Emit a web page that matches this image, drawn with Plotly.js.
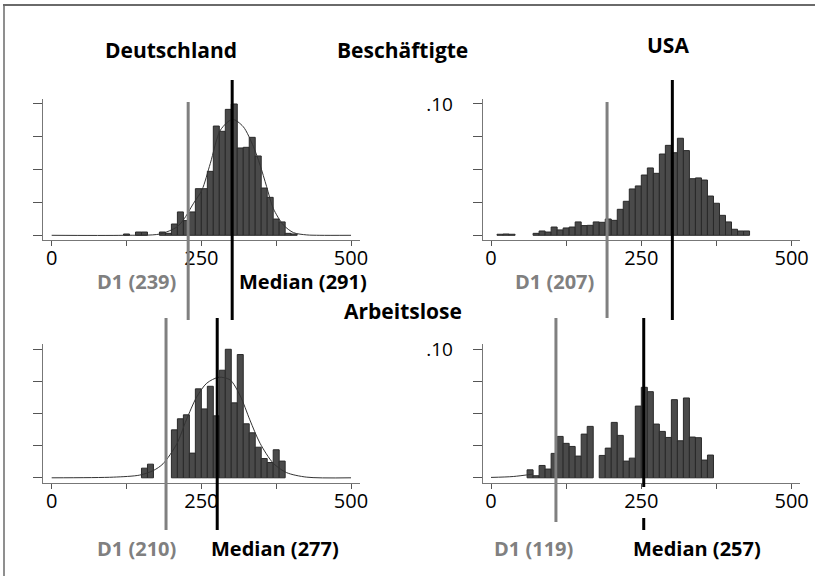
<!DOCTYPE html>
<html>
<head>
<meta charset="utf-8">
<script src="https://cdn.plot.ly/plotly-3.0.1.min.js"></script>
<style>html,body{margin:0;padding:0;background:#fff;overflow:hidden}#chart{width:815px;height:576px}</style>
</head>
<body>
<div id="chart"></div>
<script>
// ---- data ----
const binWidth = 10;

// Deutschland, Beschäftigte
const deBeschBins = [120,140,150,180,190,200,210,220,230,240,250,260,270,280,290,300,310,320,330,340,350,360,370,380,390,400];
const deBeschVals = [0.0010,0.0025,0.0025,0.0025,0.0015,0.0086,0.0178,0.0112,0.0178,0.0355,0.0355,0.0487,0.0832,0.0792,0.0959,0.1000,0.0665,0.0670,0.0746,0.0604,0.0360,0.0289,0.0124,0.0102,0.0015,0.0010];
const deBeschCurveX = [0,120,181,209,220,237,251,265,282,302,320,337,348,359,370,387,404,426,448,500];
const deBeschCurveY = [0,0,0.001,0.0063,0.0117,0.0244,0.0345,0.0548,0.0802,0.0883,0.0827,0.0675,0.0536,0.0371,0.0206,0.0079,0.002,0.0003,0,0];

// USA, Beschäftigte
const usBeschBins = [10,20,30,70,80,90,100,110,120,130,140,150,160,170,180,190,200,210,220,230,240,250,260,270,280,290,300,310,320,330,340,350,360,370,380,390,400,410,420];
const usBeschVals = [0.0008,0.0010,0.0008,0.0015,0.0033,0.0025,0.0063,0.0041,0.0056,0.0063,0.0102,0.0074,0.0076,0.0102,0.0099,0.0124,0.0114,0.0198,0.0259,0.0353,0.0376,0.0459,0.0513,0.0472,0.0619,0.0685,0.0629,0.0739,0.0645,0.0431,0.0437,0.0421,0.0299,0.0244,0.0152,0.0102,0.0046,0.0033,0.0033];

// Deutschland, Arbeitslose
const deArbBins = [150,160,200,210,220,230,240,250,260,270,280,290,300,310,320,330,340,350,360,370,380];
const deArbVals = [0.0075,0.0106,0.0373,0.0459,0.0490,0.0192,0.0692,0.0536,0.0712,0.0482,0.0837,0.1000,0.0583,0.0959,0.0420,0.0350,0.0238,0.0150,0.0119,0.0218,0.0130];
const deArbCurveX = [0,103,147,170,186,209,225,242,259,279,298,315,331,348,370,392,426,500];
const deArbCurveY = [0,0.0005,0.0021,0.0057,0.0109,0.0264,0.0451,0.0627,0.0736,0.0782,0.0762,0.0637,0.0451,0.0269,0.0114,0.0041,0.0005,0];

// USA, Arbeitslose
const usArbBins = [60,70,80,90,100,110,120,130,140,150,160,180,190,200,210,220,230,240,250,260,270,280,290,300,310,320,330,340,350,360];
const usArbVals = [0.0062,0.0016,0.0096,0.0068,0.0190,0.0322,0.0268,0.0244,0.0169,0.0340,0.0400,0.0174,0.0231,0.0431,0.0330,0.0130,0.0153,0.0558,0.0704,0.0670,0.0418,0.0361,0.0314,0.0608,0.0288,0.0621,0.0317,0.0312,0.0138,0.0177];
const usArbCurveX = [0,37,70];
const usArbCurveY = [0.0003,0.0010,0.0029];

// reference lines (positions as drawn) and their labels
const d1Pos = [228, 193, 191, 108];
const medianPos = [301.5, 301.6, 276.5, 254];
const d1Labels = ['D1 (239)', 'D1 (207)', 'D1 (210)', 'D1 (119)'];
const medianLabels = ['Median (291)', 'Median (277)', 'Median (257)'];

const xTickVals = [0,125,250,375,500];
const xTickText = ['0','','250','','500'];
const yTickVals = [0,0.025,0.05,0.075,0.10];
const yTickTextLeft = ['','','','',''];
const yTickTextRight = ['','','','','.10'];

// ---- layout helpers ----
const W = 815, H = 576;
const px = v => v / W;
const py = v => 1 - v / H;
const FONT = 'Open Sans, Noto Sans, sans-serif';
const barColor = '#4a4a4a', barEdge = '#2a2a2a';

function bars(x, y, xa, ya) {
  return {type:'bar', x:x, y:y, width:binWidth, offset:0, xaxis:xa, yaxis:ya,
    marker:{color:barColor, line:{color:barEdge, width:1}}, hoverinfo:'skip', showlegend:false};
}
function curve(x, y, xa, ya) {
  return {type:'scatter', mode:'lines', x:x, y:y, xaxis:xa, yaxis:ya,
    line:{color:'#333', width:1, shape:'spline', smoothing:0.8}, hoverinfo:'skip', showlegend:false};
}

const data = [
  bars(deBeschBins, deBeschVals, 'x', 'y'),
  curve(deBeschCurveX, deBeschCurveY, 'x', 'y'),
  bars(usBeschBins, usBeschVals, 'x2', 'y2'),
  bars(deArbBins, deArbVals, 'x3', 'y3'),
  curve(deArbCurveX, deArbCurveY, 'x3', 'y3'),
  curve(usArbCurveX, usArbCurveY, 'x4', 'y4'),
  bars(usArbBins, usArbVals, 'x4', 'y4')
];

function xaxis(dom, range, anchor) {
  return {domain:dom, range:range, anchor:anchor, showgrid:false, zeroline:false,
    showline:true, linecolor:'#777', linewidth:1, ticks:'outside', ticklen:5, tickcolor:'#555', tickwidth:1,
    tickvals:xTickVals, ticktext:xTickText, tickfont:{family:FONT, size:20, color:'#000'},
    ticklabelstandoff:-5, fixedrange:true};
}
function yaxis(dom, range, anchor, text) {
  return {domain:dom, range:range, anchor:anchor, showgrid:false, zeroline:false,
    showline:true, linecolor:'#777', linewidth:1, ticks:'outside', ticklen:9, tickcolor:'#555', tickwidth:1,
    tickvals:yTickVals, ticktext:text, tickfont:{family:FONT, size:19, color:'#000'},
    ticklabelstandoff:16, fixedrange:true};
}

const leftDom = [px(42.7), px(360)];
const rightDom = [px(482.7), px(800)];
const topDom = [py(240), py(99)];
const botDom = [py(482.5), py(344)];
const xrL = [-15, 515], xrR = [-13.8, 513.9];
const yrT = [-0.00358, 0.1038], yrB = [-0.00366, 0.1041];

function vline(xref, xv, y0, y1, color) {
  return {type:'line', xref:xref, yref:'paper', x0:xv, x1:xv, y0:py(y0), y1:py(y1), layer:'above',
    line:{color:color, width:3}};
}
const GRAY = '#808080';
const shapes = [
  {type:'line', xref:'paper', yref:'paper', x0:px(3), x1:1, y0:py(5), y1:py(5),
   line:{color:'#6a6a6a', width:2}, layer:'below'},
  {type:'line', xref:'paper', yref:'paper', x0:px(4), x1:px(4), y0:0, y1:py(4),
   line:{color:'#6a6a6a', width:1.5}, layer:'below'},
  vline('x', d1Pos[0], 320, 102, GRAY),
  vline('x', medianPos[0], 320, 80, '#000'),
  vline('x2', d1Pos[1], 318, 102, GRAY),
  vline('x2', medianPos[1], 320, 80, '#000'),
  vline('x3', d1Pos[2], 530, 318, GRAY),
  vline('x3', medianPos[2], 530, 318, '#000'),
  vline('x4', d1Pos[3], 522, 318, GRAY),
  vline('x4', medianPos[3], 487, 318, '#000'),
  vline('x4', medianPos[3], 530, 518, '#000')
];

function ann(text, x, y, size, color) {
  return {text:'<b>'+text+'</b>', xref:'paper', yref:'paper', x:px(x), y:py(y),
    xanchor:'center', yanchor:'middle', showarrow:false, borderpad:0,
    font:{family:FONT, size:size, color:color}};
}
const annotations = [
  ann('Deutschland', 171, 50, 21, '#000'),
  ann('Beschäftigte', 402.5, 50, 21, '#000'),
  ann('USA', 668, 45, 21, '#000'),
  ann('Arbeitslose', 402.5, 311, 21, '#000'),
  ann(d1Labels[0], 136.7, 281, 20, GRAY),
  ann(medianLabels[0], 303, 281, 20, '#000'),
  ann(d1Labels[1], 554.5, 281, 20, GRAY),
  ann(d1Labels[2], 136.7, 548, 20, GRAY),
  ann(medianLabels[1], 275, 548, 20, '#000'),
  ann(d1Labels[3], 533.3, 548, 20, GRAY),
  ann(medianLabels[2], 696.7, 548, 20, '#000')
];

const layout = {
  width:W, height:H, margin:{l:0, r:0, t:0, b:0},
  paper_bgcolor:'#fff', plot_bgcolor:'rgba(0,0,0,0)',
  showlegend:false, bargap:0,
  font:{family:FONT, color:'#000'},
  xaxis:xaxis(leftDom, xrL, 'y'),
  yaxis:yaxis(topDom, yrT, 'x', yTickTextLeft),
  xaxis2:xaxis(rightDom, xrR, 'y2'),
  yaxis2:yaxis(topDom, yrT, 'x2', yTickTextRight),
  xaxis3:xaxis(leftDom, xrL, 'y3'),
  yaxis3:yaxis(botDom, yrB, 'x3', yTickTextLeft),
  xaxis4:xaxis(rightDom, xrR, 'y4'),
  yaxis4:yaxis(botDom, yrB, 'x4', yTickTextRight),
  shapes:shapes,
  annotations:annotations
};

Plotly.newPlot('chart', data, layout, {displayModeBar:false, staticPlot:true});
</script>
</body>
</html>
